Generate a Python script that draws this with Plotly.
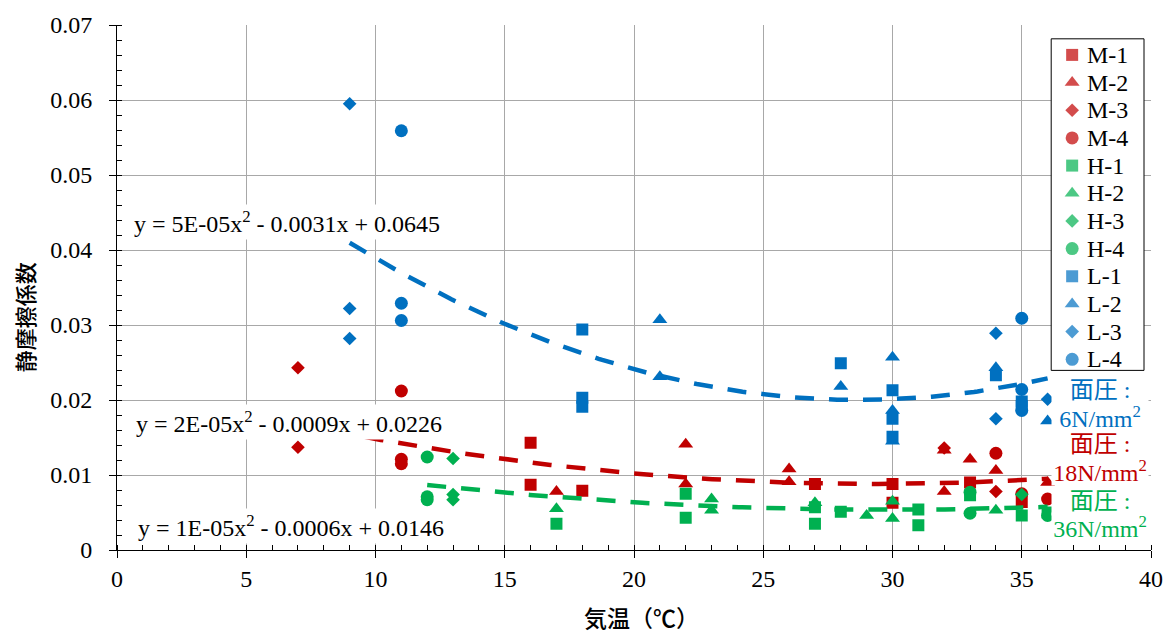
import numpy as np
import plotly.graph_objects as go

# ---------------- measured data: air temperature (°C) vs. static friction coefficient ----------------
# 18 N/mm2 (M series)
m1_temp = [16, 16, 18, 27, 30, 30, 33, 35]
m1_mu = [0.0143, 0.0087, 0.0079, 0.0088, 0.0088, 0.0063, 0.0090, 0.0064]
m2_temp = [17, 22, 22, 26, 26, 32, 32, 33, 34, 36]
m2_mu = [0.0078, 0.0141, 0.0088, 0.0108, 0.0091, 0.0133, 0.0078, 0.0121, 0.0106, 0.0090]
m3_temp = [7, 7, 32, 34]
m3_mu = [0.0243, 0.0137, 0.0136, 0.0078]
m4_temp = [11, 11, 11, 34, 35, 36]
m4_mu = [0.0212, 0.0121, 0.0115, 0.0129, 0.0075, 0.0068]

# 36 N/mm2 (H series)
h1_temp = [17, 22, 22, 27, 27, 28, 31, 31, 33, 35, 36]
h1_mu = [0.0035, 0.0075, 0.0043, 0.0057, 0.0035, 0.0051, 0.0054, 0.0033, 0.0073, 0.0046, 0.0050]
h2_temp = [17, 23, 23, 27, 29, 30, 30, 34]
h2_mu = [0.0055, 0.0068, 0.0053, 0.0063, 0.0046, 0.0065, 0.0042, 0.0053]
h3_temp = [13, 13, 13, 35]
h3_mu = [0.0122, 0.0074, 0.0067, 0.0074]
h4_temp = [12, 12, 12, 33, 33, 36]
h4_mu = [0.0124, 0.0071, 0.0067, 0.0077, 0.0049, 0.0046]

# 6 N/mm2 (L series)
l1_temp = [18, 18, 18, 28, 30, 30, 30, 34, 35, 35]
l1_mu = [0.0294, 0.0203, 0.0191, 0.0249, 0.0213, 0.0175, 0.0151, 0.0233, 0.0198, 0.0192]
l2_temp = [21, 21, 28, 30, 30, 30, 34, 36]
l2_mu = [0.0307, 0.0231, 0.0218, 0.0257, 0.0186, 0.0145, 0.0243, 0.0172]
l3_temp = [9, 9, 9, 34, 34, 36]
l3_mu = [0.0595, 0.0322, 0.0282, 0.0289, 0.0175, 0.0201]
l4_temp = [11, 11, 11, 35, 35, 35]
l4_mu = [0.0559, 0.0329, 0.0306, 0.0309, 0.0214, 0.0186]

# quadratic trendline coefficients [a, b, c] for y = a*x^2 + b*x + c
fit_L = [5.4e-5, -0.0031, 0.0645]
fit_M = [1.6e-5, -0.00094, 0.0226]
fit_H = [1.04e-5, -0.00062, 0.0146]

# axis ticks
x_ticks = [0, 5, 10, 15, 20, 25, 30, 35, 40]
y_ticks = [0, 0.01, 0.02, 0.03, 0.04, 0.05, 0.06, 0.07]

# ---------------- styling ----------------
SERIF = "Liberation Serif, Times New Roman, serif"
CJK = "Noto Sans CJK JP, sans-serif"
MIXED = "Liberation Serif, Noto Sans CJK JP, serif"
RED, GREEN, BLUE = "#C00000", "#00B050", "#0070C0"
GRID = "#A8A8A8"

W, H = 1175, 637
ML, MR, MT, MB = 117, 22, 18, 87
PW, PH = W - ML - MR, H - MT - MB


def fx(px):
    """page pixel x -> plot-area fraction"""
    return (px - ML) / PW


def fy(py):
    """page pixel y -> plot-area fraction"""
    return (H - MB - py) / PH


SIZE = {"square": 12, "triangle-up": 13, "diamond": 10.5, "circle": 13}

series = [
    ("M-1", m1_temp, m1_mu, RED, "square"),
    ("M-2", m2_temp, m2_mu, RED, "triangle-up"),
    ("M-3", m3_temp, m3_mu, RED, "diamond"),
    ("M-4", m4_temp, m4_mu, RED, "circle"),
    ("H-1", h1_temp, h1_mu, GREEN, "square"),
    ("H-2", h2_temp, h2_mu, GREEN, "triangle-up"),
    ("H-3", h3_temp, h3_mu, GREEN, "diamond"),
    ("H-4", h4_temp, h4_mu, GREEN, "circle"),
    ("L-1", l1_temp, l1_mu, BLUE, "square"),
    ("L-2", l2_temp, l2_mu, BLUE, "triangle-up"),
    ("L-3", l3_temp, l3_mu, BLUE, "diamond"),
    ("L-4", l4_temp, l4_mu, BLUE, "circle"),
]

fig = go.Figure()

for name, xs, ys, col, sym in series:
    fig.add_trace(go.Scatter(
        x=xs, y=ys, mode="markers", name=name, showlegend=False,
        marker=dict(symbol=sym, size=SIZE[sym], color=col, line=dict(width=0)),
        cliponaxis=False,
    ))

# dashed quadratic trendlines over each pressure group's temperature span
groups = [
    (fit_L, l1_temp + l2_temp + l3_temp + l4_temp, BLUE, 218, 131),
    (fit_M, m1_temp + m2_temp + m3_temp + m4_temp, RED, 420, 133),
    (fit_H, h1_temp + h2_temp + h3_temp + h4_temp, GREEN, 526, 135),
]
annotations = []
for coef, xs, col, label_py, label_px in groups:
    xx = np.linspace(min(xs), max(xs), 200)
    yy = np.polyval(coef, xx)
    fig.add_trace(go.Scatter(
        x=xx, y=yy, mode="lines", showlegend=False, hoverinfo="skip",
        line=dict(color=col, width=4.5, dash="19px,15px"),
    ))
    a, b, c = coef
    sign_b = "-" if b < 0 else "+"
    sign_c = "-" if c < 0 else "+"
    text = (f"y = {a:.0E}x<sup>2</sup> {sign_b} {abs(b):.4f}x {sign_c} {abs(c):.4f}")
    annotations.append(dict(
        xref="paper", yref="paper", x=fx(label_px), y=fy(label_py),
        xanchor="left", yanchor="middle", text=text, showarrow=False,
        font=dict(family=SERIF, size=24, color="black"),
        bgcolor="white", borderpad=2,
    ))

# pressure labels at the right edge
pressure_labels = [
    ("面圧 :", "6N/mm<sup>2</sup>", BLUE, 388, 415),
    ("面圧 :", "18N/mm<sup>2</sup>", RED, 443, 470),
    ("面圧 :", "36N/mm<sup>2</sup>", GREEN, 500, 527),
]
for line1, line2, col, py1, py2 in pressure_labels:
    for txt, py in ((line1, py1), (line2, py2)):
        annotations.append(dict(
            xref="paper", yref="paper", x=fx(1102), y=fy(py),
            xanchor="center", yanchor="middle", text=txt, showarrow=False,
            font=dict(family=MIXED, size=24, color=col),
            bgcolor="white", width=96, height=28, borderpad=0,
        ))

# axis titles
annotations.append(dict(
    xref="paper", yref="paper", x=fx(643), y=fy(618),
    xanchor="center", yanchor="middle", text="気温（℃）", showarrow=False,
    font=dict(family=CJK, size=23, color="black", weight=500),
))
annotations.append(dict(
    xref="paper", yref="paper", x=fx(24), y=fy(314),
    xanchor="center", yanchor="middle", text="静摩擦係数", showarrow=False,
    textangle=-90, font=dict(family=CJK, size=22, color="black", weight=500),
))

# ---------------- legend box drawn on an overlay axis ----------------
box_l, box_r, box_t, box_b = 1053, 1146, 32, 368
fig.add_trace(go.Scatter(
    x=[fx(box_l), fx(box_r), fx(box_r), fx(box_l), fx(box_l)],
    y=[fy(box_t), fy(box_t), fy(box_b), fy(box_b), fy(box_t)],
    xaxis="x2", yaxis="y2", mode="lines", fill="toself", fillcolor="white",
    line=dict(color="black", width=1), showlegend=False, hoverinfo="skip",
))
item_py = [48.3 + 28.04 * i for i in range(len(series))]
fig.add_trace(go.Scatter(
    x=[fx(1074)] * len(series), y=[fy(p) for p in item_py],
    xaxis="x2", yaxis="y2", mode="markers", showlegend=False, hoverinfo="skip",
    marker=dict(symbol=[s[4] for s in series], color=[s[3] for s in series],
                size=[SIZE[s[4]] for s in series], line=dict(width=0)),
))
for (name, *_), py in zip(series, item_py):
    annotations.append(dict(
        xref="paper", yref="paper", x=fx(1087), y=fy(py),
        xanchor="left", yanchor="middle", text=name, showarrow=False,
        font=dict(family=SERIF, size=24, color="black"),
    ))

axis_common = dict(
    showgrid=True, gridcolor=GRID, gridwidth=1, zeroline=False,
    showline=True, linecolor="black", linewidth=1,
    ticks="outside", ticklen=7, tickwidth=1, tickcolor="black",
    tickfont=dict(family=SERIF, size=24, color="black"),
)

fig.update_layout(
    width=W, height=H,
    margin=dict(l=ML, r=MR, t=MT, b=MB),
    paper_bgcolor="white", plot_bgcolor="white",
    xaxis=dict(
        range=[0, 40], tickvals=x_ticks, ticklabelstandoff=0,
        minor=dict(dtick=1, tick0=0, ticks="inside", ticklen=5, tickcolor="black", showgrid=False),
        **axis_common,
    ),
    yaxis=dict(
        range=[0, 0.07], tickvals=y_ticks, ticklabelstandoff=12,
        minor=dict(dtick=0.002, tick0=0, ticks="inside", ticklen=5, tickcolor="black", showgrid=False),
        **axis_common,
    ),
    xaxis2=dict(overlaying="x", range=[0, 1], visible=False, fixedrange=True),
    yaxis2=dict(overlaying="y", range=[0, 1], visible=False, fixedrange=True),
    annotations=annotations,
    showlegend=False,
)

fig.write_html("out.html")
